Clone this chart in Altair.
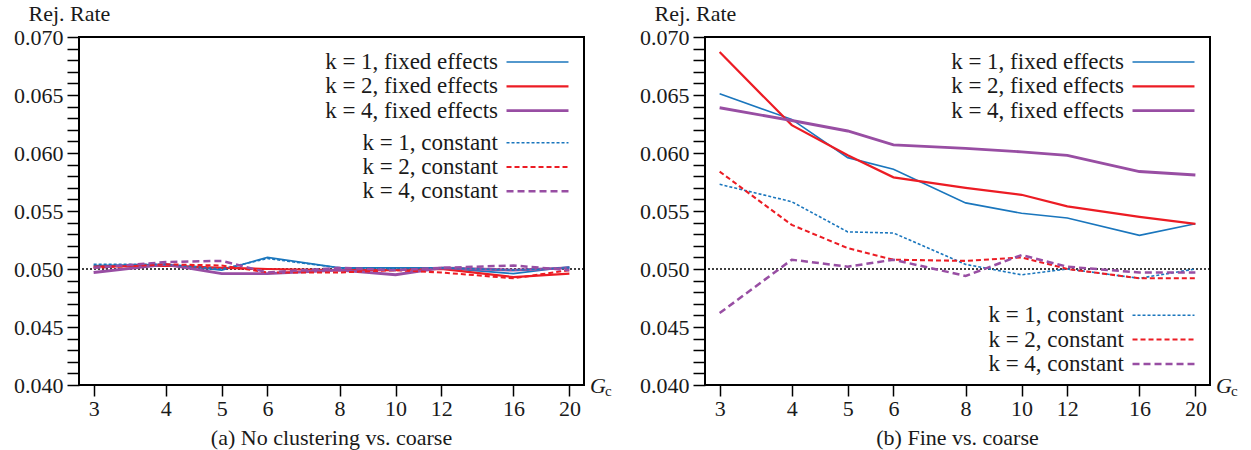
import altair as alt
import pandas as pd

# ---------------- data ----------------
G = [3, 4, 5, 6, 8, 10, 12, 16, 20]
SERIES_FE = ["k = 1, fixed effects", "k = 2, fixed effects", "k = 4, fixed effects"]
SERIES_CO = ["k = 1, constant", "k = 2, constant", "k = 4, constant"]
COLORS = ["#1a76bd", "#ec1c24", "#984ea3"]

# (a) No clustering vs. coarse
a_k1_fe = [0.0503, 0.0504, 0.0499, 0.0510, 0.0501, 0.0501, 0.0501, 0.0496, 0.0502]
a_k2_fe = [0.0502, 0.0503, 0.0501, 0.0500, 0.0499, 0.0499, 0.0500, 0.0493, 0.0496]
a_k4_fe = [0.0497, 0.0504, 0.0496, 0.0496, 0.0499, 0.0495, 0.0501, 0.0499, 0.0501]
a_k1_co = [0.0504, 0.0504, 0.0500, 0.0509, 0.0501, 0.0500, 0.0501, 0.0499, 0.0501]
a_k2_co = [0.0501, 0.0504, 0.0503, 0.0497, 0.0497, 0.0499, 0.0497, 0.0492, 0.0499]
a_k4_co = [0.0501, 0.0506, 0.0507, 0.0497, 0.0501, 0.0499, 0.0501, 0.0503, 0.0499]

# (b) Fine vs. coarse
b_k1_fe = [0.0651, 0.0629, 0.0596, 0.0586, 0.0557, 0.0548, 0.0544, 0.0529, 0.0539]
b_k2_fe = [0.0687, 0.0624, 0.0598, 0.0579, 0.0570, 0.0564, 0.0554, 0.0545, 0.0539]
b_k4_fe = [0.0639, 0.0628, 0.0619, 0.0607, 0.0604, 0.0601, 0.0598, 0.0584, 0.0581]
b_k1_co = [0.0573, 0.0558, 0.0532, 0.0531, 0.0504, 0.0495, 0.0500, 0.0492, 0.0500]
b_k2_co = [0.0584, 0.0538, 0.0518, 0.0508, 0.0507, 0.0510, 0.0500, 0.0492, 0.0492]
b_k4_co = [0.0462, 0.0508, 0.0502, 0.0508, 0.0494, 0.0512, 0.0502, 0.0497, 0.0497]

Y_TICKS = [round(0.040 + 0.001 * i, 3) for i in range(31)]
REF_LEVEL = [0.05]

FONT = "Liberation Serif"
TXT = "#1a1a1a"
FS = 22

W, H = 505, 348


def long_df(series, values):
    rows = []
    for s, vals in zip(series, values):
        for g, v in zip(G, vals):
            rows.append({"G": g, "rate": v, "series": s})
    return pd.DataFrame(rows)


def legend(y):
    # long horizontal line sample placed to the right of right-aligned labels
    return alt.Legend(
        title=None, orient="none", legendX=247, legendY=y,
        symbolType="M-4,0H4", symbolSize=240, symbolOffset=200,
        labelOffset={"expr": "-51"}, labelAlign="right", labelLimit=400,
        labelFont=FONT, labelFontSize=23, labelColor=TXT,
        rowPadding=0.3, padding=0,
    )


X_ENC = alt.X("G:Q",
              scale=alt.Scale(type="log", domain=[2.83, 21.2], nice=False),
              axis=alt.Axis(values=G, format="d", title=None, tickSize=11,
                            tickWidth=1.5, tickColor="black", labelPadding=2,
                            domain=False, grid=False, labelOverlap=False,
                            labelFlush=False, labelFont=FONT, labelFontSize=FS,
                            labelColor=TXT))
Y_ENC = alt.Y("rate:Q",
              scale=alt.Scale(domain=[0.040, 0.070], nice=False, zero=False),
              axis=alt.Axis(values=Y_TICKS,
                            labelExpr="round(datum.value*1000) % 5 == 0 ? format(datum.value, '.3f') : ''",
                            title="Rej. Rate", titleAngle=0, titleAlign="left",
                            titleBaseline="middle", titleX=-51, titleY=-23.5,
                            titleFont=FONT, titleFontSize=FS, titleFontWeight="normal",
                            titleColor=TXT, tickSize=12, tickWidth=1.5,
                            tickColor="black", labelPadding=4, domain=False,
                            grid=False, labelOverlap=False, labelBound=False,
                            labelFont=FONT, labelFontSize=FS, labelColor=TXT))


def panel(fe_vals, co_vals, subtitle, fe_legend_y, co_legend_y):
    ref = alt.Chart(pd.DataFrame({"rate": REF_LEVEL})).mark_rule(
        color="black", strokeDash=[2, 2], strokeWidth=1.5
    ).encode(y=Y_ENC)

    fe = alt.Chart(long_df(SERIES_FE, fe_vals)).mark_line().encode(
        x=X_ENC, y=Y_ENC,
        color=alt.Color("series:N", scale=alt.Scale(domain=SERIES_FE, range=COLORS),
                        legend=legend(fe_legend_y)),
        strokeWidth=alt.StrokeWidth(
            "series:N",
            scale=alt.Scale(type="point", padding=0, domain=SERIES_FE, range=[1.6, 2.9]),
            legend=legend(fe_legend_y)),
    )

    co = alt.Chart(long_df(SERIES_CO, co_vals)).mark_line().encode(
        x=X_ENC, y=Y_ENC,
        color=alt.Color("series:N", scale=alt.Scale(domain=SERIES_CO, range=COLORS),
                        legend=legend(co_legend_y)),
        strokeDash=alt.StrokeDash("series:N",
                                  scale=alt.Scale(domain=SERIES_CO,
                                                  range=[[3, 2], [5, 3], [7, 4]]),
                                  legend=legend(co_legend_y)),
        strokeWidth=alt.StrokeWidth(
            "series:N",
            scale=alt.Scale(type="point", padding=0, domain=SERIES_CO, range=[1.6, 2.5]),
            legend=legend(co_legend_y)),
    )

    g_lab = alt.Chart(pd.DataFrame({"t": ["G"]})).mark_text(
        font=FONT, fontSize=FS, fontStyle="italic", color=TXT, align="left",
        baseline="middle").encode(text="t:N", x=alt.value(W + 6), y=alt.value(H + 1))
    c_lab = alt.Chart(pd.DataFrame({"t": ["c"]})).mark_text(
        font=FONT, fontSize=15, color=TXT, align="left",
        baseline="middle").encode(text="t:N", x=alt.value(W + 21), y=alt.value(H + 6))

    frame = alt.Chart(pd.DataFrame({"f": [0]})).mark_rect(
        fill=None, filled=False, stroke="black", strokeWidth=2
    ).encode(x=alt.value(0), x2=alt.value(W), y=alt.value(0), y2=alt.value(H))

    return alt.layer(ref, fe, co, g_lab, c_lab, frame).resolve_scale(
        color="independent", strokeDash="independent", strokeWidth="independent"
    ).properties(
        width=W, height=H,
        title=alt.TitleParams(subtitle, orient="bottom", anchor="middle", frame="group",
                              font=FONT, fontSize=FS, fontWeight="normal",
                              color=TXT, offset=9),
    )


pa = panel([a_k1_fe, a_k2_fe, a_k4_fe], [a_k1_co, a_k2_co, a_k4_co],
           "(a) No clustering vs. coarse", 13.5, 94.2)
pb = panel([b_k1_fe, b_k2_fe, b_k4_fe], [b_k1_co, b_k2_co, b_k4_co],
           "(b) Fine vs. coarse", 13.5, 266.8)

chart = alt.hconcat(pa, pb, spacing=121, bounds="flush").resolve_scale(
    color="independent", strokeDash="independent", strokeWidth="independent"
).properties(
    padding={"left": 13, "top": 2, "right": 5, "bottom": 5}
).configure_view(strokeWidth=0)

chart.save("out.html", embed_options={"renderer": "svg", "actions": False})
